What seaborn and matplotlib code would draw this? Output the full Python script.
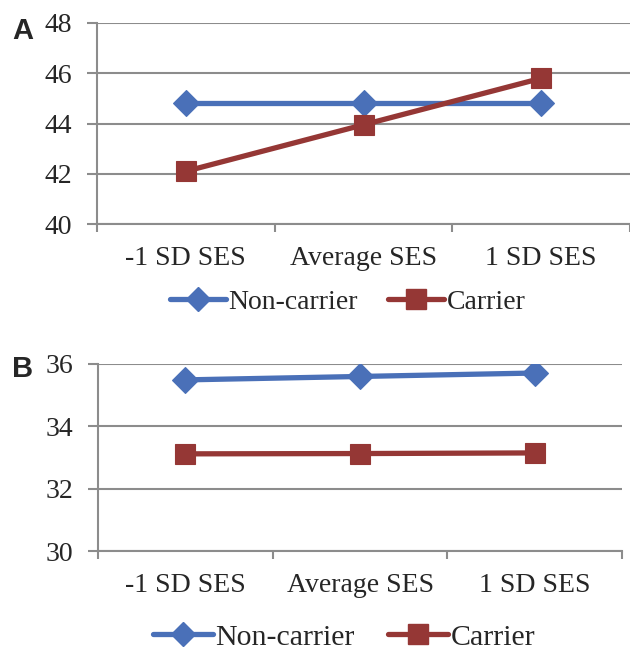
import matplotlib
matplotlib.use("Agg")
import matplotlib.pyplot as plt
from matplotlib.ticker import FixedLocator
import pandas as pd
import seaborn as sns

# data
categories = ["-1 SD SES", "Average SES", "1 SD SES"]
groups = ["Non-carrier", "Carrier"]
a_noncarrier = [44.83, 44.83, 44.83]
a_carrier = [42.1, 43.95, 45.8]
b_noncarrier = [35.49, 35.6, 35.71]
b_carrier = [33.12, 33.13, 33.15]
a_ticks = [40, 42, 44, 46, 48]
b_ticks = [30, 32, 34, 36]

blue = "#4a70b8"
red = "#953735"
grid_col = "#8c8c8c"


def make_df(noncarrier, carrier):
    rows = []
    for g, vals in zip(groups, [noncarrier, carrier]):
        for c, v in zip(categories, vals):
            rows.append({"SES": c, "group": g, "value": v})
    return pd.DataFrame(rows)


sns.set_style("white")
plt.rcParams["font.family"] = ["Liberation Serif", "DejaVu Serif"]

fig = plt.figure(figsize=(6.3, 6.57), dpi=100)
ax_a = fig.add_axes([0.154, 0.659, 0.846, 0.306])
ax_b = fig.add_axes([0.1556, 0.161, 0.832, 0.285])


def draw_panel(ax, df, yticks, legend_x, legend_y, legend_size):
    df = df.copy()
    df["x"] = df["SES"].map({c: i for i, c in enumerate(categories)})
    sns.lineplot(data=df, x="x", y="value", hue="group", style="group",
                 palette=[blue, red], markers=["D", "s"], dashes=False,
                 linewidth=3.8, markersize=15, markeredgewidth=0.8,
                 ax=ax, legend=False, sort=False)
    # diamonds are a bit smaller than squares
    ax.lines[0].set_markersize(13)
    for ln, col in zip(ax.lines, [blue, red]):
        ln.set_markeredgecolor(col)
    ax.set_xlim(-0.5, 2.5)
    ax.set_ylim(yticks[0], yticks[-1])
    ax.set_yticks(yticks)
    ax.set_xticks(range(len(categories)))
    ax.set_xticklabels(categories)
    ax.xaxis.set_minor_locator(FixedLocator([-0.5, 0.5, 1.5, 2.5]))
    ax.tick_params(axis="x", which="major", length=0, pad=16, labelsize=20)
    ax.tick_params(axis="x", which="minor", length=6, width=1.5,
                   color=grid_col, direction="out", bottom=True)
    ax.tick_params(axis="y", length=7, width=1.5, color=grid_col,
                   direction="out", left=True, pad=11, labelsize=20)
    ax.set_xlabel("")
    ax.set_ylabel("")
    ax.grid(axis="y", color=grid_col, linewidth=1.5)
    ax.set_axisbelow(True)
    for side in ["top", "right"]:
        ax.spines[side].set_visible(False)
    for side in ["left", "bottom"]:
        ax.spines[side].set_color(grid_col)
        ax.spines[side].set_linewidth(1.5)

    handles = [plt.Line2D([], [], color=blue, marker="D", markersize=12, linewidth=3.8),
               plt.Line2D([], [], color=red, marker="s", markersize=14, linewidth=3.8)]
    fig.legend(handles, groups, loc="center", bbox_to_anchor=(legend_x, legend_y),
               ncol=2, frameon=False, fontsize=legend_size, handlelength=2.0,
               handletextpad=0.1, columnspacing=1.1)


draw_panel(ax_a, make_df(a_noncarrier, a_carrier), a_ticks, 0.552, 0.54, 20)
draw_panel(ax_b, make_df(b_noncarrier, b_carrier), b_ticks, 0.546, 0.030, 21.5)

fig.text(0.019, 0.953, "A", fontsize=21, fontweight="bold",
         family=["Liberation Sans", "DejaVu Sans"], va="center")
fig.text(0.019, 0.438, "B", fontsize=21, fontweight="bold",
         family=["Liberation Sans", "DejaVu Sans"], va="center")

fig.savefig("out.png", dpi=100)
